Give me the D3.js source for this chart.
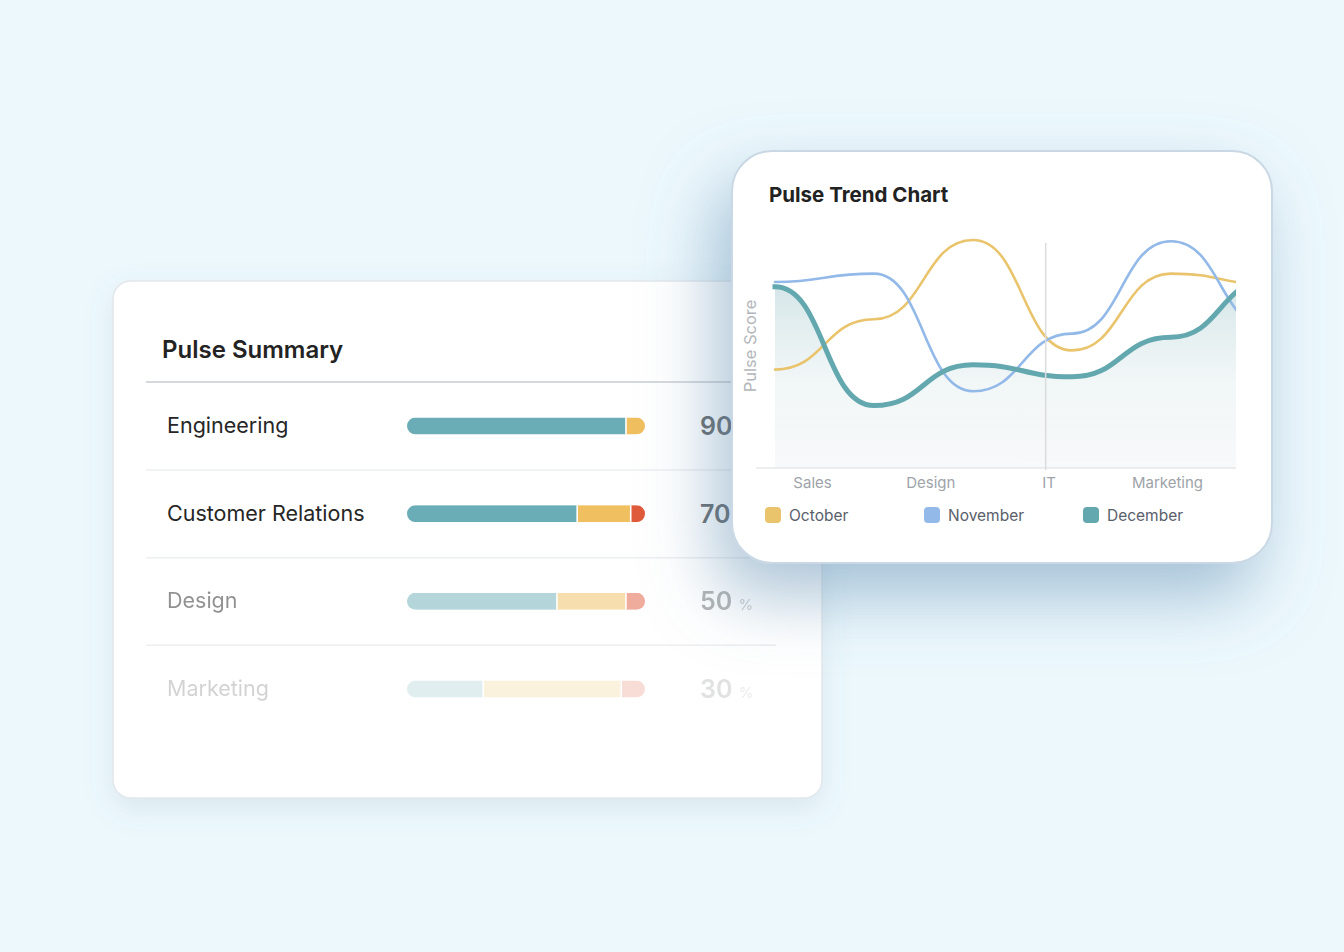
<!DOCTYPE html>
<html>
<head>
<meta charset="utf-8">
<script src="https://cdn.jsdelivr.net/npm/d3@7/dist/d3.min.js"></script>
<style>
  html, body { margin: 0; padding: 0; background: #edf8fd; }
  svg { display: block; font-family: Inter, "Noto Sans", sans-serif; }
</style>
</head>
<body>
<svg id="chart" width="1344" height="952"></svg>
<script>
// ---------- DATA ----------
const teamNames = ["Engineering", "Customer Relations", "Design", "Marketing"];
const teamScores = [90, 70, 50, 30];
const positiveShare = [92, 71.5, 63, 32];
const neutralShare = [8, 22.5, 29, 58];
const negativeShare = [0, 6, 8, 10];

const categories = ["Sales", "Design", "IT", "Marketing"];
const highlightCategory = "IT";
const seriesNames = ["October", "November", "December"];
const sampleIndex = [0, 1, 2, 3, 4, 5];
const october  = [41, 62, 95, 49, 81, 76.5];
const november = [77.5, 81, 32, 56, 94.5, 58];
const december = [75.5, 26, 43, 38, 54.5, 78.5];

// ---------- STYLE ----------
const rowOpacity = [1, 1, 0.5, 0.2];
const segColors = ["#6badb6", "#f0bf5f", "#e05a3b"];
const lineColors = { October: "#e9c46c", November: "#92b9e8", December: "#63a8af" };
const lineWidths = { October: 2.6, November: 2.6, December: 5 };

const svg = d3.select("#chart");
const defs = svg.append("defs");

// shadows
const f1 = defs.append("filter").attr("id", "shLeft")
  .attr("x", "-20%").attr("y", "-20%").attr("width", "140%").attr("height", "150%");
f1.append("feDropShadow").attr("dx", 0).attr("dy", 10).attr("stdDeviation", 14)
  .attr("flood-color", "#5c7f99").attr("flood-opacity", 0.14);

const f2 = defs.append("filter").attr("id", "shRight")
  .attr("x", "-50%").attr("y", "-40%").attr("width", "200%").attr("height", "200%");
f2.append("feDropShadow").attr("dx", -16).attr("dy", 32).attr("stdDeviation", 34)
  .attr("flood-color", "#5a88ad").attr("flood-opacity", 0.5);

// area gradient
const grad = defs.append("linearGradient").attr("id", "areaGrad")
  .attr("x1", 0).attr("y1", 0).attr("x2", 0).attr("y2", 1);
grad.append("stop").attr("offset", "0%").attr("stop-color", "#6aa6ae").attr("stop-opacity", 0.30);
grad.append("stop").attr("offset", "55%").attr("stop-color", "#9fc3c8").attr("stop-opacity", 0.14);
grad.append("stop").attr("offset", "100%").attr("stop-color", "#d9dee2").attr("stop-opacity", 0.18);

// ---------- LEFT CARD: Pulse Summary ----------
const left = svg.append("g");
left.append("rect").attr("x", 113).attr("y", 281).attr("width", 709).attr("height", 517)
  .attr("rx", 18).attr("fill", "#fff").attr("stroke", "#e2e7eb").attr("stroke-width", 1.5)
  .attr("filter", "url(#shLeft)");

left.append("text").attr("x", 162).attr("y", 358).text("Pulse Summary")
  .attr("font-size", 24).attr("font-weight", 600).attr("fill", "#232323");
left.append("line").attr("x1", 146).attr("x2", 800).attr("y1", 382).attr("y2", 382)
  .attr("stroke", "#d6d9dc").attr("stroke-width", 2);

const rowY = d3.scalePoint().domain(teamNames).range([426, 689]);
const barX = d3.scaleLinear().domain([0, 100]).range([407, 645]);
const barH = 17;

teamNames.forEach((name, i) => {
  const cy = rowY(name);
  const g = left.append("g").attr("opacity", rowOpacity[i]);
  g.append("text").attr("x", 167).attr("y", cy + 7).text(name)
    .attr("font-size", 21.5).attr("fill", "#262626");

  const cid = "barClip" + i;
  defs.append("clipPath").attr("id", cid).append("rect")
    .attr("x", barX(0)).attr("y", cy - barH / 2).attr("width", barX(100) - barX(0))
    .attr("height", barH).attr("rx", barH / 2);
  const shares = [positiveShare[i], neutralShare[i], negativeShare[i]];
  let acc = 0;
  const segs = shares.map((s, k) => { const o = { k, x0: acc, x1: acc + s }; acc += s; return o; })
    .filter(d => d.x1 > d.x0);
  const bg = g.append("g").attr("clip-path", `url(#${cid})`);
  bg.selectAll("rect").data(segs).join("rect")
    .attr("x", d => barX(d.x0)).attr("width", d => barX(d.x1) - barX(d.x0))
    .attr("y", cy - barH / 2).attr("height", barH)
    .attr("fill", d => segColors[d.k]);
  bg.selectAll("line").data(segs.slice(1)).join("line")
    .attr("x1", d => barX(d.x0)).attr("x2", d => barX(d.x0))
    .attr("y1", cy - barH).attr("y2", cy + barH)
    .attr("stroke", "#fff").attr("stroke-width", 1.6);

  const t = g.append("text").attr("x", 700).attr("y", cy + 9);
  t.append("tspan").text(teamScores[i]).attr("font-size", 25).attr("font-weight", 600).attr("fill", "#6a6c6e");
  t.append("tspan").text(" %").attr("font-size", 15).attr("fill", "#9a9c9e").attr("dx", 2);

  if (i < teamNames.length - 1) {
    left.append("line").attr("x1", 146).attr("x2", 776)
      .attr("y1", cy + 44).attr("y2", cy + 44)
      .attr("stroke", "#eceef0").attr("stroke-width", 1.5);
  }
});

// ---------- RIGHT CARD: Pulse Trend Chart ----------
const right = svg.append("g");
right.append("rect").attr("x", 732).attr("y", 151).attr("width", 540).attr("height", 412)
  .attr("rx", 40).attr("fill", "#fff").attr("stroke", "#c9d8e4").attr("stroke-width", 2)
  .attr("filter", "url(#shRight)");

right.append("text").attr("x", 769).attr("y", 202).text("Pulse Trend Chart")
  .attr("font-size", 20.5).attr("font-weight", 700).attr("fill", "#222");

const x = d3.scaleLinear().domain([0, 5]).range([775, 1270]);
const y = d3.scaleLinear().domain([0, 100]).range([468, 228]);
const xCat = d3.scalePoint().domain(categories).range([812, 1167]);

defs.append("clipPath").attr("id", "plotClip").append("rect")
  .attr("x", 771).attr("y", 200).attr("width", 1236 - 771).attr("height", 268);

// axis baseline
right.append("line").attr("x1", 756).attr("x2", 1236).attr("y1", y(0)).attr("y2", y(0))
  .attr("stroke", "#e6e8eb").attr("stroke-width", 1.5);

const curve = d3.curveBumpX;

// area under December
const plot = right.append("g").attr("clip-path", "url(#plotClip)");
const area = d3.area().x((d, i) => x(sampleIndex[i])).y0(y(0)).y1(d => y(d)).curve(curve);
plot.append("path").datum(december).attr("d", area).attr("fill", "url(#areaGrad)");

// highlight vertical line
right.append("line").attr("x1", xCat(highlightCategory) - 3).attr("x2", xCat(highlightCategory) - 3)
  .attr("y1", 243).attr("y2", y(0) + 2).attr("stroke", "#dadcde").attr("stroke-width", 1.5);

const line = d3.line().x((d, i) => x(sampleIndex[i])).y(d => y(d)).curve(curve);
const seriesData = { October: october, November: november, December: december };
seriesNames.forEach(name => {
  plot.append("path").datum(seriesData[name]).attr("d", line)
    .attr("fill", "none").attr("stroke", lineColors[name])
    .attr("stroke-width", lineWidths[name])
    .attr("stroke-linecap", name === "December" ? "square" : "round");
});

// y axis label
right.append("text").attr("transform", `translate(756,346) rotate(-90)`)
  .attr("text-anchor", "middle").text("Pulse Score")
  .attr("font-size", 16.5).attr("fill", "#b3b7bb");

// x axis labels
const xAxis = d3.axisBottom(xCat).tickSize(0).tickPadding(9);
const ax = right.append("g").attr("transform", `translate(0,${y(0)})`).call(xAxis);
ax.select(".domain").remove();
ax.selectAll("text").attr("font-size", 15).attr("fill", "#9ea3a9").attr("font-family", "Inter, sans-serif");

// legend
const legX = d3.scalePoint().domain(seriesNames).range([765, 1083]);
const leg = right.append("g").selectAll("g").data(seriesNames).join("g")
  .attr("transform", d => `translate(${legX(d)},507)`);
leg.append("rect").attr("width", 16).attr("height", 16).attr("rx", 4)
  .attr("fill", d => lineColors[d]);
leg.append("text").attr("x", 24).attr("y", 14).text(d => d)
  .attr("font-size", 15.5).attr("fill", "#59606a");
</script>
</body>
</html>
